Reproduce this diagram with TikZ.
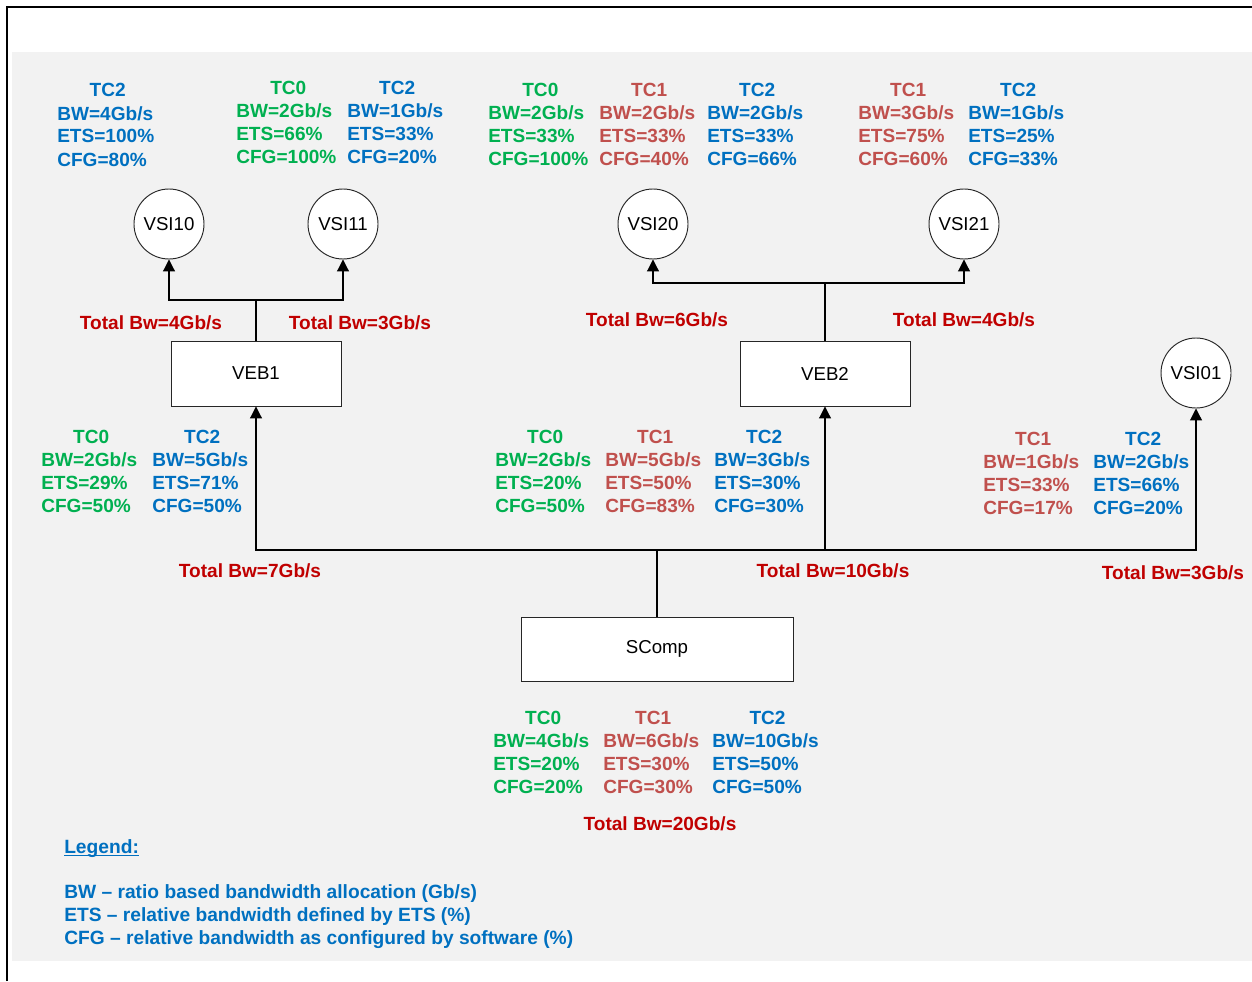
\documentclass[tikz,border=0pt]{standalone}
\usepackage{fontspec}
\setmainfont{Liberation Sans}
\usetikzlibrary{arrows.meta}
\definecolor{cblue}{HTML}{0070C0}
\definecolor{cgreen}{HTML}{00B050}
\definecolor{ctc}{HTML}{C0504D}
\definecolor{ctot}{HTML}{C00000}
\definecolor{cbg}{HTML}{F2F2F2}
\newcommand{\tcb}[4]{\begin{tabular}[t]{@{}l@{}}\multicolumn{1}{@{}c@{}}{\hspace{3pt}#1}\\#2\\#3\\#4\end{tabular}}
\begin{document}
\begin{tikzpicture}[x=0.75pt,y=-0.75pt,
  blk/.style={inner sep=0pt,font=\fontsize{14.3}{17.25}\selectfont\bfseries,anchor=base west},
  tot/.style={inner sep=0pt,font=\fontsize{14.3}{17.25}\selectfont\bfseries,text=ctot,anchor=base},
  vsi/.style={circle,draw=black!85,fill=white,line width=0.7pt,minimum size=52.5pt,inner sep=0pt,font=\fontsize{14}{16}\selectfont},
  box/.style={rectangle,draw=black!85,fill=white,line width=0.7pt,inner sep=0pt,font=\fontsize{14}{16}\selectfont},
  arr/.style={draw=black,line width=0.8pt,-{Triangle[length=9pt,width=9pt]}},
  leg/.style={inner sep=0pt,font=\fontsize{14.4}{17.25}\selectfont\bfseries,text=cblue,anchor=base west}]
\useasboundingbox (0,0) rectangle (1252,981);
\fill[white] (0,0) rectangle (1252,981);
\fill[cbg] (12,52) rectangle (1252,961);
\draw[line width=1.5pt] (7,981) -- (7,7) -- (1252,7);

% nodes
\node[vsi] (vsi10) at (169,224) {VSI10};
\node[vsi] (vsi11) at (343,224) {VSI11};
\node[vsi] (vsi20) at (653,224) {VSI20};
\node[vsi] (vsi21) at (964,224) {VSI21};
\node[vsi] (vsi01) at (1196,373) {VSI01};
\node[box,minimum width=127.5pt,minimum height=48.75pt] (veb1) at (256,373.5) {VEB1};
\node[box,minimum width=127.5pt,minimum height=48.75pt] (veb2) at (825,373.5) {VEB2};
\node[box,minimum width=204pt,minimum height=48pt] (scomp) at (657,649) {SComp};

\coordinate (j1) at (256,300);
\coordinate (j2) at (825,283);
\coordinate (j0) at (657,550);

\draw[arr] (veb1.north) -- (veb1.north |- j1) -| (vsi10.south);
\draw[arr] (veb1.north |- j1) -| (vsi11.south);
\draw[arr] (veb2.north) -- (veb2.north |- j2) -| (vsi20.south);
\draw[arr] (veb2.north |- j2) -| (vsi21.south);
\draw[arr] (scomp.north) -- (scomp.north |- j0) -| (veb1.south);
\draw[arr] (scomp.north |- j0) -| (veb2.south);
\draw[arr] (scomp.north |- j0) -| (vsi01.south);

% top blocks
\node[blk,text=cblue] (a1) at (57,97) {\tcb{TC2}{BW=4Gb/s}{ETS=100\%}{CFG=80\%}};
\node[blk,text=cgreen] (a2) at (236,94) {\tcb{TC0}{BW=2Gb/s}{ETS=66\%}{CFG=100\%}};
\node[blk,text=cblue] (a3) at (347,94) {\tcb{TC2}{BW=1Gb/s}{ETS=33\%}{CFG=20\%}};
\node[blk,text=cgreen] (a4) at (488,96) {\tcb{TC0}{BW=2Gb/s}{ETS=33\%}{CFG=100\%}};
\node[blk,text=ctc] (a5) at (599,96) {\tcb{TC1}{BW=2Gb/s}{ETS=33\%}{CFG=40\%}};
\node[blk,text=cblue] (a6) at (707,96) {\tcb{TC2}{BW=2Gb/s}{ETS=33\%}{CFG=66\%}};
\node[blk,text=ctc] (a7) at (858,96) {\tcb{TC1}{BW=3Gb/s}{ETS=75\%}{CFG=60\%}};
\node[blk,text=cblue] (a8) at (968,96) {\tcb{TC2}{BW=1Gb/s}{ETS=25\%}{CFG=33\%}};

% middle blocks
\node[blk,text=cgreen] (b1) at (41,443) {\tcb{TC0}{BW=2Gb/s}{ETS=29\%}{CFG=50\%}};
\node[blk,text=cblue] (b2) at (152,443) {\tcb{TC2}{BW=5Gb/s}{ETS=71\%}{CFG=50\%}};
\node[blk,text=cgreen] (b3) at (495,443) {\tcb{TC0}{BW=2Gb/s}{ETS=20\%}{CFG=50\%}};
\node[blk,text=ctc] (b4) at (605,443) {\tcb{TC1}{BW=5Gb/s}{ETS=50\%}{CFG=83\%}};
\node[blk,text=cblue] (b5) at (714,443) {\tcb{TC2}{BW=3Gb/s}{ETS=30\%}{CFG=30\%}};
\node[blk,text=ctc] (b6) at (983,445) {\tcb{TC1}{BW=1Gb/s}{ETS=33\%}{CFG=17\%}};
\node[blk,text=cblue] (b7) at (1093,445) {\tcb{TC2}{BW=2Gb/s}{ETS=66\%}{CFG=20\%}};

% bottom blocks
\node[blk,text=cgreen] (c1) at (493,724) {\tcb{TC0}{BW=4Gb/s}{ETS=20\%}{CFG=20\%}};
\node[blk,text=ctc] (c2) at (603,724) {\tcb{TC1}{BW=6Gb/s}{ETS=30\%}{CFG=30\%}};
\node[blk,text=cblue] (c3) at (712,724) {\tcb{TC2}{BW=10Gb/s}{ETS=50\%}{CFG=50\%}};

% totals
\node[tot] (t1) at (151,329) {Total Bw=4Gb/s};
\node[tot] (t2) at (360,329) {Total Bw=3Gb/s};
\node[tot] (t3) at (657,326) {Total Bw=6Gb/s};
\node[tot] (t4) at (964,326) {Total Bw=4Gb/s};
\node[tot] (t5) at (250,577) {Total Bw=7Gb/s};
\node[tot] (t6) at (833,577) {Total Bw=10Gb/s};
\node[tot] (t7) at (1173,579) {Total Bw=3Gb/s};
\node[tot] (t8) at (660,830) {Total Bw=20Gb/s};

% legend
\node[leg] (l0) at (64,853) {Legend:};
\draw[cblue,line width=0.9pt] ([yshift=-1.6pt]l0.base west) -- ([yshift=-1.6pt]l0.base east);
\node[leg] (l1) at (64,898) {BW -- ratio based bandwidth allocation (Gb/s)};
\node[leg] (l2) at (64,921) {ETS -- relative bandwidth defined by ETS (\%)};
\node[leg] (l3) at (64,944) {CFG -- relative bandwidth as configured by software (\%)};
\end{tikzpicture}
\end{document}
